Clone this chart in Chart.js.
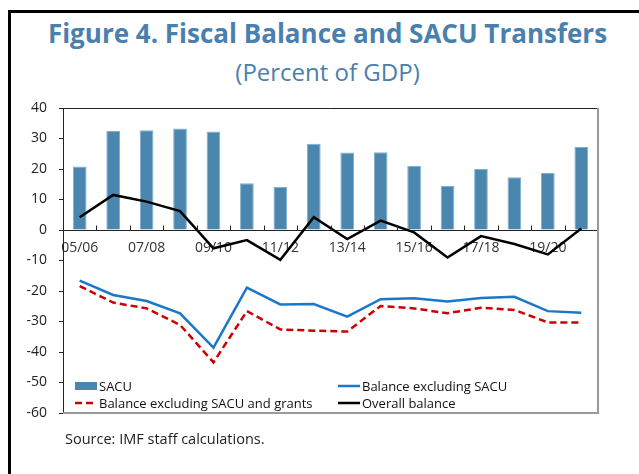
<!DOCTYPE html>
<html>
<head>
<meta charset="utf-8">
<script src="https://cdn.jsdelivr.net/npm/chart.js@4"></script>
<style>
body { margin: 0; background: #fff; }
#wrap { position: relative; width: 639px; height: 474px; overflow: hidden; }
#frame { position: absolute; left: 8px; top: 10px; width: 700px; height: 500px; border-left: 3px solid #000; border-top: 3px solid #000; }
.t { position: absolute; left: 0; width: 655px; text-align: center; color: #4a80ad; font-family: 'Open Sans'; white-space: nowrap; }
#title { top: 15px; font-size: 26px; font-weight: bold; }
#sub { top: 55px; font-size: 24px; }
#src { position: absolute; left: 65px; top: 429px; font: 14.5px 'Open Sans'; color: #222; }
canvas { position: absolute; left: 0; top: 0; }
</style>
</head>
<body>
<div id="wrap">
  <div id="frame"></div>
  <div class="t" id="title">Figure 4. Fiscal Balance and SACU Transfers</div>
  <div class="t" id="sub">(Percent of GDP)</div>
  <canvas id="chart" width="639" height="474"></canvas>
  <div id="src">Source: IMF staff calculations.</div>
</div>
<script>
const years = ['05/06', '06/07', '07/08', '08/09', '09/10', '10/11', '11/12', '12/13',
               '13/14', '14/15', '15/16', '16/17', '17/18', '18/19', '19/20', '20/21'];
const sacu = [20.8, 32.5, 32.7, 33.3, 32.3, 15.3, 14.2, 28.3, 25.4, 25.5, 21.0, 14.4, 20.0, 17.3, 18.7, 27.2];
const exSacu = [-16.6, -21.3, -23.3, -27.3, -38.6, -18.9, -24.4, -24.3, -28.4, -22.7, -22.4, -23.4, -22.3, -21.9, -26.6, -27.1];
const exSacuGrants = [-18.4, -23.8, -25.7, -31.1, -43.4, -26.6, -32.6, -33.0, -33.3, -24.9, -25.7, -27.3, -25.5, -26.2, -30.3, -30.3];
const overall = [4.2, 11.5, 9.3, 6.2, -6.0, -3.3, -9.8, 4.2, -3.0, 3.1, -0.8, -9.0, -2.0, -4.6, -8.0, 0.5];
const yMin = -60, yMax = 40, yStep = 10;

const FONT = "'Open Sans'";

// box around plot, tick marks on the zero line, legend inside the plot
const extras = {
    id: 'extras',
    afterDraw(chart) {
        const ctx = chart.ctx;
        const a = chart.chartArea;
        const x = chart.scales.x;
        const y = chart.scales.y;
        ctx.save();
        ctx.lineWidth = 1;
        ctx.strokeStyle = '#222';
        ctx.beginPath();
        ctx.moveTo(a.left, a.top + 0.5);
        ctx.lineTo(a.right, a.top + 0.5);
        ctx.stroke();
        ctx.lineWidth = 2;
        ctx.strokeStyle = '#9a9a9a';
        ctx.beginPath();
        ctx.moveTo(a.right, a.top);
        ctx.lineTo(a.right, a.bottom);
        ctx.lineTo(a.left, a.bottom);
        ctx.stroke();

        const y0 = Math.round(y.getPixelForValue(0)) + 0.5;
        ctx.lineWidth = 1;
        ctx.strokeStyle = '#222';
        ctx.beginPath();
        for (let i = 1; i < years.length; i++) {
            const px = Math.round((x.getPixelForValue(i - 1) + x.getPixelForValue(i)) / 2) + 0.5;
            ctx.moveTo(px, y0);
            ctx.lineTo(px, y0 - 5);
        }
        ctx.stroke();

        ctx.font = '13px ' + FONT;
        ctx.textBaseline = 'middle';
        ctx.fillStyle = '#111';
        chart.data.datasets.forEach((ds, i) => {
            const col = i % 2, row = Math.floor(i / 2);
            const sx = a.left + (col ? 275 : 12);
            const sy = a.bottom - 27 + row * 17;
            if (ds.type === 'line') {
                ctx.strokeStyle = ds.borderColor;
                ctx.lineWidth = 2.5;
                ctx.setLineDash(ds.borderDash || []);
                ctx.beginPath();
                ctx.moveTo(sx, sy);
                ctx.lineTo(sx + 22, sy);
                ctx.stroke();
                ctx.setLineDash([]);
            } else {
                ctx.fillStyle = ds.backgroundColor;
                ctx.fillRect(sx, sy - 4, 22, 8);
            }
            ctx.fillStyle = '#111';
            ctx.fillText(ds.label, sx + 24, sy + 1);
        });
        ctx.restore();
    }
};

new Chart(document.getElementById('chart'), {
    type: 'bar',
    data: {
        labels: years,
        datasets: [{
            label: 'SACU',
            data: sacu,
            backgroundColor: '#4a86ae',
            borderColor: '#7fb0cf',
            borderWidth: 1,
            categoryPercentage: 1,
            barPercentage: 0.41,
            order: 3
        }, {
            type: 'line',
            label: 'Balance excluding SACU',
            data: exSacu,
            borderColor: '#1a78c8',
            borderWidth: 2.5,
            pointRadius: 0,
            tension: 0,
            order: 2
        }, {
            type: 'line',
            label: 'Balance excluding SACU and grants',
            data: exSacuGrants,
            borderColor: '#cc0000',
            borderWidth: 2.5,
            borderDash: [7, 4],
            pointRadius: 0,
            tension: 0,
            order: 2
        }, {
            type: 'line',
            label: 'Overall balance',
            data: overall,
            borderColor: '#000',
            borderWidth: 2.5,
            pointRadius: 0,
            tension: 0,
            order: 1
        }]
    },
    options: {
        responsive: false,
        animation: false,
        events: [],
        layout: { padding: { top: 108, right: 41, bottom: 61, left: 0 } },
        plugins: {
            legend: { display: false },
            tooltip: { enabled: false }
        },
        scales: {
            x: {
                position: { y: 0 },
                offset: true,
                grid: { display: false, drawTicks: false },
                border: { color: '#222', width: 1 },
                ticks: {
                    autoSkip: false,
                    maxRotation: 0,
                    padding: 10,
                    color: '#333',
                    font: { family: FONT, size: 14 },
                    callback: (v, i) => (i % 2 === 0 ? years[i] : '')
                }
            },
            y: {
                min: yMin,
                max: yMax,
                afterFit: s => { s.width = 63; },
                grid: { drawOnChartArea: false, drawTicks: true, tickLength: 4, color: '#222' },
                border: { color: '#222', width: 1 },
                ticks: {
                    stepSize: yStep,
                    padding: 12,
                    color: '#222',
                    font: { family: FONT, size: 14 }
                }
            }
        }
    },
    plugins: [extras]
});
</script>
</body>
</html>
